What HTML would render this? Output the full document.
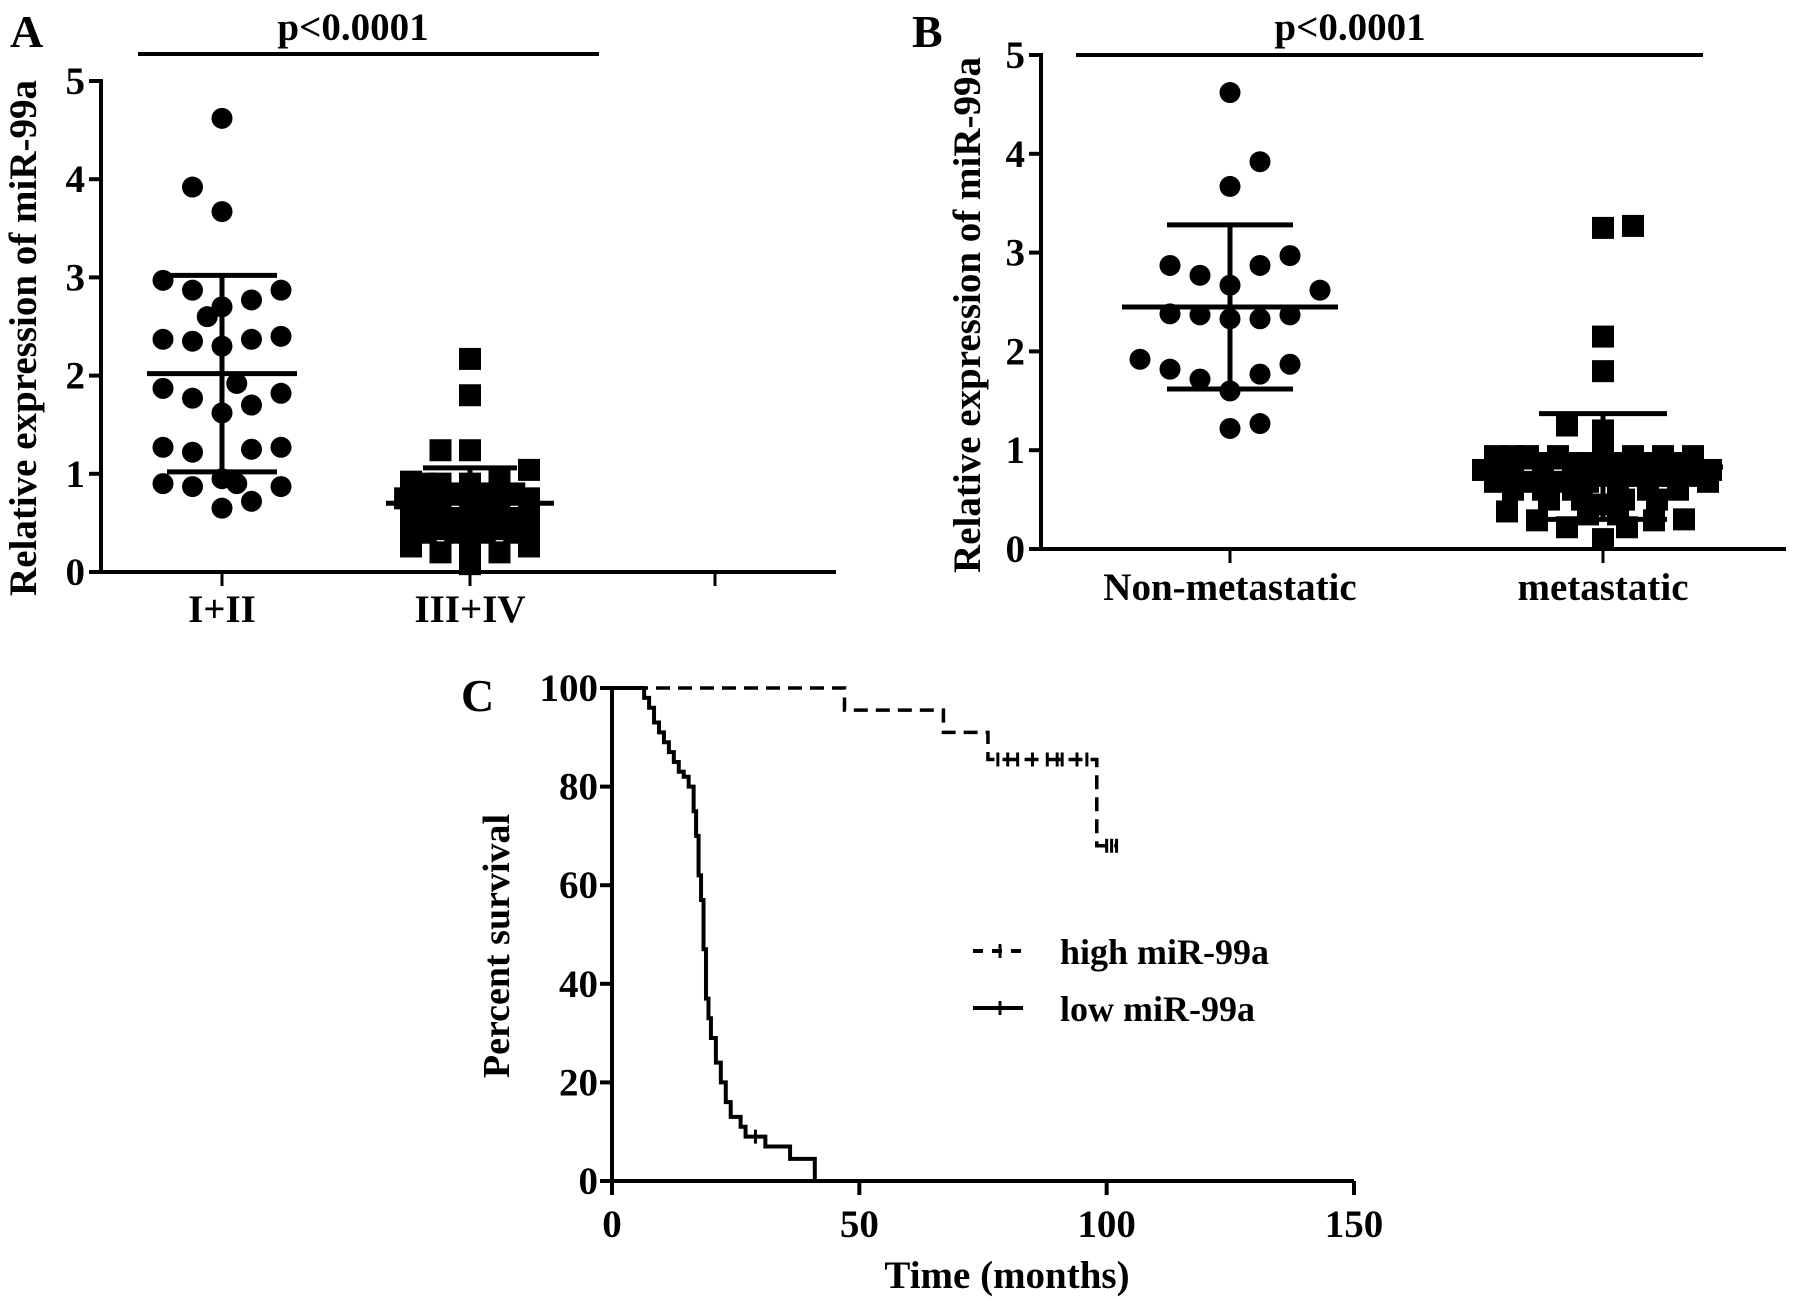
<!DOCTYPE html>
<html><head><meta charset="utf-8"><style>
html,body{margin:0;padding:0;background:#fff}
svg{display:block}
text{font-family:"Liberation Serif",serif;font-weight:bold;fill:#000}
</style></head><body>
<svg id="fig" width="1795" height="1299" viewBox="0 0 1795 1299" xmlns="http://www.w3.org/2000/svg">
<g id="pa"></g>
<g id="pb"></g>
<g id="pc"></g>
</svg>
<script>
// ---------- data ----------
const yTicksAB = [0,1,2,3,4,5];
const catsA = ["I+II","III+IV"];
const aG1Values = [4.62,3.92,3.67,2.97,2.87,2.77,2.87,2.7,2.6,2.37,2.35,2.3,2.37,2.4,1.92,1.87,1.77,1.7,1.82,1.62,1.27,1.22,1.25,1.27,0.9,0.87,0.95,0.9,0.87,0.72,0.65];
const aG1Slots  = [0,-1,0,-2,-1,1,2,0,-0.5,-2,-1,0,1,2,0.5,-2,-1,1,2,0,-2,-1,1,2,-2,-1,0,0.5,2,1,0];
const aG2Values = [2.17,1.8,1.24,1.24,1.04,0.95,0.92,0.9,0.9,0.9,0.88,0.75,0.75,0.75,0.75,0.75,0.75,0.62,0.62,0.62,0.62,0.62,0.62,0.48,0.48,0.48,0.48,0.48,0.26,0.2,0.3,0.2,0.26,0.08,0.8,0.8,0.8,0.8,0.55,0.55,0.55,0.55,0.4,0.4,0.4,0.4];
const aG2Slots  = [0,0,-1,0,2,1,-2,-1,0,-1.5,1,-2.2,-1,0,1,2,-1.5,-2,-1,0,1,2,0.5,-2,-1,0,1,2,-2,-1,0,1,2,0,-1.5,-0.5,0.5,1.5,-1.5,-0.5,0.5,1.5,-1.5,-0.5,0.5,1.5];
const aStats = {g1:{mean:2.02,lo:1.02,hi:3.02}, g2:{mean:0.7,lo:0.35,hi:1.06}};
const catsB = ["Non-metastatic","metastatic"];
const bG1Values = [4.62,3.92,3.67,2.97,2.87,2.87,2.77,2.67,2.62,2.38,2.37,2.33,2.33,2.37,1.92,1.82,1.87,1.77,1.72,1.6,1.22,1.27];
const bG1Slots  = [0,1,0,2,-2,1,-1,0,3,-2,-1,0,1,2,-3,-2,2,1,-1,0,0,1];
const bG2Values = [3.25,3.27,2.15,1.8,1.25,1.2,1.0,0.94,0.94,0.94,0.94,0.94,0.94,0.94,0.8,0.8,0.8,0.8,0.8,0.8,0.8,0.8,0.8,0.68,0.68,0.68,0.68,0.68,0.68,0.68,0.68,0.38,0.29,0.22,0.22,0.29,0.3,0.1,
  0.87,0.87,0.87,0.87,0.87,0.87,0.87,0.74,0.74,0.74,0.74,0.74,0.74,0.74,0.6,0.6,0.6,0.6,0.6,0.6,0.5,0.5,0.5,0.5,0.45,0.35,0.35];
const bG2Slots  = [0,1,0,0,-1.2,0,0,-3.6,-2.5,-1.5,1,2,3,-3,-4,-3,-2,-1,0,1,2,3,3.6,-3.6,-2.5,-1.5,-0.5,0.5,1.5,2.5,3.5,-3.2,-2.2,-1.2,0.8,1.7,2.7,0,
  -3.3,-2,-1,-0.5,0.5,1.5,2.5,-3.3,-2,-1,0,1,2,3,-3,-2,-1,0.5,1.5,2.5,-1.8,-0.7,0.7,1.8,0,-0.5,0.5];
const bStats = {g1:{mean:2.45,lo:1.62,hi:3.28}, g2:{mean:0.83,lo:0.3,hi:1.37}};
const cXTicks = [0,50,100,150];
const cYTicks = [0,20,40,60,80,100];
const highTimes = [0,47,67,76,98,102];
const highSurv  = [100,95.5,91,85.5,68,68];
const highCensor = [78,80,82,85,88,90,91,94,96,100,101,102];
const lowTimes = [0,6.5,7.5,8.5,9.5,10.5,11.5,12.5,13.5,14.5,15.5,16.5,17,17.5,18,18.5,19,19.5,20,21,22,23,24,26,27,31,36,41];
const lowSurv  = [100,98,96,93,91,89,87,85,83,82,80,75,70,62,57,47,37,33,29,24,20,16,13,11,9,7,4.5,0];
const lowCensor = [29];

// ---------- helpers ----------
const NS="http://www.w3.org/2000/svg";
function mk(parent,tag,attrs,txt){const e=document.createElementNS(NS,tag);for(const k in attrs)e.setAttribute(k,attrs[k]);if(txt!==undefined)e.textContent=txt;parent.appendChild(e);return e;}

function scatterPanel(g, cfg){
  const yS=v=>cfg.y0-(cfg.y0-cfg.y5)*v/5;
  const ya=mk(g,'line',{x1:cfg.ax,y1:cfg.y5-2,x2:cfg.ax,y2:cfg.y0,stroke:'#000','stroke-width':4});
  
  
  const xa=mk(g,'line',{x1:cfg.ax,y1:cfg.y0,x2:cfg.axEnd,y2:cfg.y0,stroke:'#000','stroke-width':4});
  
  
  yTicksAB.forEach(t=>{
    const y=yS(t);
    mk(g,'line',{x1:cfg.ax-12,y1:y,x2:cfg.ax,y2:y,stroke:'#000','stroke-width':4});
    const tl=mk(g,'text',{x:cfg.ax-16,y:y+13,'text-anchor':'end','font-size':39},String(t));
    
    
  });
  cfg.catX.forEach((cx,i)=>{
    mk(g,'line',{x1:cx,y1:cfg.y0,x2:cx,y2:cfg.y0+14,stroke:'#000','stroke-width':3});
    if(cfg.cats[i]!==undefined){
      const cl=mk(g,'text',{x:cx,y:cfg.catY,'text-anchor':'middle','font-size':39},cfg.cats[i]);
      
      
    }
  });
  const yl=mk(g,'text',{x:0,y:0,'text-anchor':'middle','font-size':39,transform:`translate(${cfg.ylx},${cfg.yly}) rotate(-90)`},'Relative expression of miR-99a');
  
  
  const pl=mk(g,'text',{x:cfg.px,y:cfg.py,'text-anchor':'middle','font-size':39},'p<0.0001');
  
  
  const sl=mk(g,'line',{x1:cfg.sx1,y1:cfg.sy,x2:cfg.sx2,y2:cfg.sy,stroke:'#000','stroke-width':4});
  
  
  const pn=mk(g,'text',{x:cfg.lx,y:cfg.ly,'font-size':46},cfg.letter);
  
  
  cfg.groups.forEach((gr,gi)=>{
    const cx=cfg.catX[gi];
    gr.vals.forEach((v,i)=>{
      const x=cx+gr.slots[i]*gr.slotW, y=yS(v);
      let m;
      if(gr.shape==='circle'){m=mk(g,'circle',{cx:x,cy:y,r:10.5,fill:'#000'});}
      else{m=mk(g,'rect',{x:x-11,y:y-11,width:22,height:22,fill:'#000'});}
      
      
    });
    const st=gr.stats;
    const mLine=mk(g,'line',{x1:cx-gr.mw,y1:yS(st.mean),x2:cx+gr.mw,y2:yS(st.mean),stroke:'#000','stroke-width':5});
    
    
    const eb=mk(g,'line',{x1:cx,y1:yS(st.hi),x2:cx,y2:yS(st.lo),stroke:'#000','stroke-width':5});
    
    
    [st.hi,st.lo].forEach(v=>{
      const c=mk(g,'line',{x1:cx-gr.cw,y1:yS(v),x2:cx+gr.cw,y2:yS(v),stroke:'#000','stroke-width':5});
      
      
    });
  });
}

scatterPanel(document.getElementById('pa'),{
  ax:101,axEnd:836,y0:572,y5:81,catX:[222,470,715],cats:catsA,catY:622,
  ylx:36,yly:338,px:353,py:40,sx1:138,sx2:599,sy:54,lx:10,ly:47,letter:'A',
  groups:[{vals:aG1Values,slots:aG1Slots,shape:'circle',stats:aStats.g1,mw:75,cw:55,slotW:29.5},
          {vals:aG2Values,slots:aG2Slots,shape:'square',stats:aStats.g2,mw:84,cw:47,slotW:29.5}]
});
scatterPanel(document.getElementById('pb'),{
  ax:1041,axEnd:1786,y0:549,y5:55,catX:[1230,1603],cats:catsB,catY:600,
  ylx:980,yly:315,px:1350,py:40,sx1:1076,sx2:1703,sy:55,lx:912,ly:47,letter:'B',
  groups:[{vals:bG1Values,slots:bG1Slots,shape:'circle',stats:bStats.g1,mw:108,cw:63,slotW:30},
          {vals:bG2Values,slots:bG2Slots,shape:'square',stats:bStats.g2,mw:120,cw:64,slotW:30}]
});

// ---------- panel C ----------
(function(){
  const g=document.getElementById('pc');
  const X0=612,X150=1354,Y0=1181,Y100=688;
  const xS=t=>X0+(X150-X0)*t/150, yS=s=>Y0-(Y0-Y100)*s/100;
  const ya=mk(g,'line',{x1:X0,y1:Y100-2,x2:X0,y2:Y0,stroke:'#000','stroke-width':4});
  
  
  const xa=mk(g,'line',{x1:X0,y1:Y0,x2:X150,y2:Y0,stroke:'#000','stroke-width':4});
  
  
  cYTicks.forEach(t=>{
    mk(g,'line',{x1:X0-12,y1:yS(t),x2:X0,y2:yS(t),stroke:'#000','stroke-width':4});
    const tl=mk(g,'text',{x:X0-14,y:yS(t)+13,'text-anchor':'end','font-size':39},String(t));
    
    
  });
  cXTicks.forEach(t=>{
    mk(g,'line',{x1:xS(t),y1:Y0,x2:xS(t),y2:Y0+14,stroke:'#000','stroke-width':4});
    const tl=mk(g,'text',{x:xS(t),y:1237,'text-anchor':'middle','font-size':39},String(t));
    
    
  });
  const xt=mk(g,'text',{x:1007,y:1288,'text-anchor':'middle','font-size':39},'Time (months)');
  
  
  const yt=mk(g,'text',{x:0,y:0,'text-anchor':'middle','font-size':38,transform:'translate(509,946) rotate(-90)'},'Percent survival');
  
  
  const pn=mk(g,'text',{x:461,y:711,'font-size':46},'C');
  
  
  function stepPath(ts,ss){
    let d=`M${xS(ts[0])},${yS(ss[0])}`;
    for(let i=1;i<ts.length;i++){d+=` H${xS(ts[i])} V${yS(ss[i])}`;}
    return d;
  }
  function survAt(ts,ss,t){let s=ss[0];for(let i=0;i<ts.length;i++){if(ts[i]<=t)s=ss[i];}return s;}
  const hp=mk(g,'path',{d:stepPath(highTimes,highSurv),fill:'none',stroke:'#000','stroke-width':3.5,'stroke-dasharray':'14,8'});
  
  
  highCensor.forEach(t=>{
    const y=yS(survAt(highTimes,highSurv,t));
    const c=mk(g,'line',{x1:xS(t),y1:y-7,x2:xS(t),y2:y+7,stroke:'#000','stroke-width':3});
    
    
  });
  const lp=mk(g,'path',{d:stepPath(lowTimes,lowSurv),fill:'none',stroke:'#000','stroke-width':4});
  
  
  lowCensor.forEach(t=>{
    const y=yS(survAt(lowTimes,lowSurv,t));
    const c=mk(g,'line',{x1:xS(t),y1:y-7,x2:xS(t),y2:y+7,stroke:'#000','stroke-width':3});
    
    
  });
  const l1=mk(g,'g',{});
  
  
  mk(l1,'line',{x1:973,y1:951,x2:1023,y2:951,stroke:'#000','stroke-width':4,'stroke-dasharray':'10,9'});
  mk(l1,'line',{x1:1000,y1:944,x2:1000,y2:958,stroke:'#000','stroke-width':3});
  mk(l1,'text',{x:1060,y:964,'font-size':36},'high miR-99a');
  const l2=mk(g,'g',{});
  
  
  mk(l2,'line',{x1:973,y1:1008,x2:1023,y2:1008,stroke:'#000','stroke-width':4});
  mk(l2,'line',{x1:1000,y1:1001,x2:1000,y2:1015,stroke:'#000','stroke-width':3});
  mk(l2,'text',{x:1060,y:1021,'font-size':36},'low miR-99a');
})();
</script>
</body></html>
